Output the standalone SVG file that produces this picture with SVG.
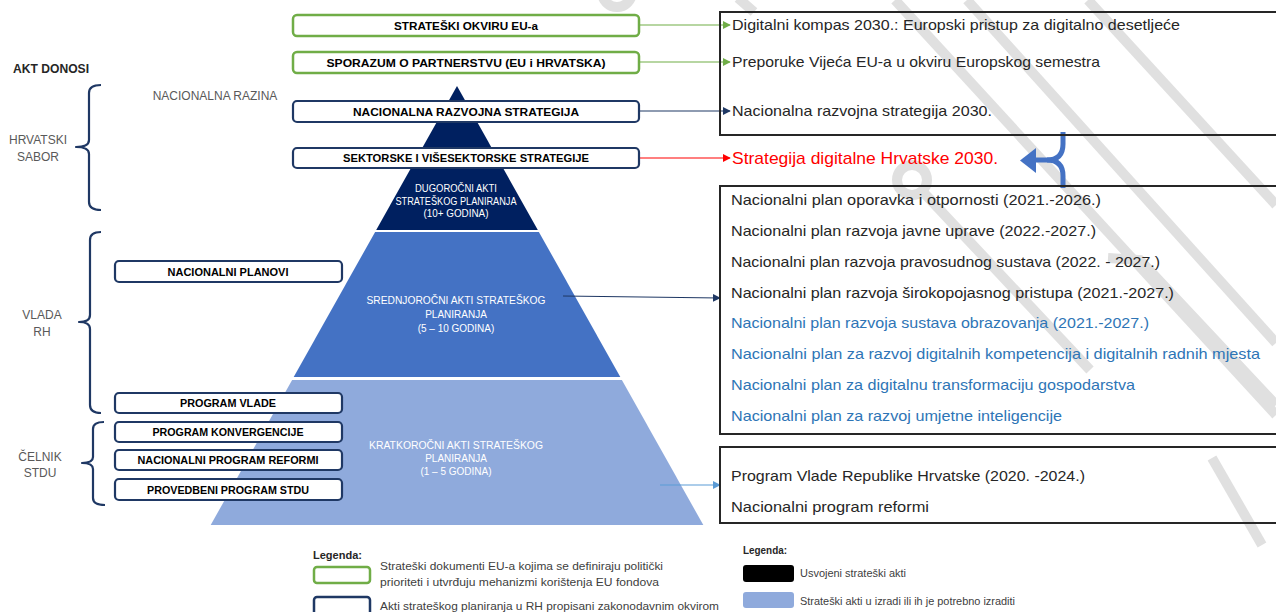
<svg xmlns="http://www.w3.org/2000/svg" width="1276" height="612" viewBox="0 0 1276 612">
<defs>
<style>
text { font-family: "Liberation Sans", Arial, sans-serif; }
.bx { fill: #ffffff; stroke: #1f3864; stroke-width: 2.2; }
.gbx { fill: #ffffff; stroke: #70ad47; stroke-width: 2.5; }
.bt { font-weight: bold; font-size: 11.5px; fill: #000000; text-anchor: middle; dominant-baseline: central; }
.lbl { font-size: 12px; fill: #595959; text-anchor: middle; dominant-baseline: central; }
.pt { font-size: 10px; fill: #ffffff; text-anchor: middle; dominant-baseline: central; }
.rt { font-size: 15px; fill: #262626; dominant-baseline: central; }
.rb { font-size: 15px; fill: #2e75b6; dominant-baseline: central; }
.lg { font-size: 10.5px; fill: #404040; dominant-baseline: central; }
.wm { stroke: #e0e0e0; stroke-width: 10; fill: none; }
.brace { fill: none; stroke: #1f3864; stroke-width: 2.2; stroke-linejoin: round; }
.rbox { fill: none; stroke: #262626; stroke-width: 2; }
</style>
<marker id="mg" viewBox="0 0 10 10" refX="9" refY="5" markerWidth="8" markerHeight="8" markerUnits="userSpaceOnUse" orient="auto"><path d="M0,0 L10,5 L0,10 z" fill="#70ad47"/></marker>
<marker id="mn" viewBox="0 0 10 10" refX="9" refY="5" markerWidth="8" markerHeight="8" markerUnits="userSpaceOnUse" orient="auto"><path d="M0,0 L10,5 L0,10 z" fill="#1f3864"/></marker>
<marker id="mr" viewBox="0 0 10 10" refX="9" refY="5" markerWidth="8" markerHeight="8" markerUnits="userSpaceOnUse" orient="auto"><path d="M0,0 L10,5 L0,10 z" fill="#ff0000"/></marker>
<marker id="mb" viewBox="0 0 10 10" refX="9" refY="5" markerWidth="8" markerHeight="8" markerUnits="userSpaceOnUse" orient="auto"><path d="M0,0 L10,5 L0,10 z" fill="#5b9bd5"/></marker>
</defs>

<rect x="0" y="0" width="1276" height="612" fill="#ffffff"/>

<g id="watermark">
<circle class="wm" cx="617" cy="-8" r="15"/>
<line class="wm" x1="738" y1="-2" x2="754" y2="12"/>
<line class="wm" x1="895" y1="0" x2="1276" y2="415"/>
<line class="wm" x1="967" y1="0" x2="1276" y2="343"/>
<line class="wm" x1="1088" y1="0" x2="1276" y2="205"/>
<circle class="wm" cx="912" cy="180" r="15"/>
<line class="wm" x1="924" y1="193" x2="1090" y2="370"/>
<path class="wm" d="M1108,258 L1140,260 L1276,405"/>
<line class="wm" x1="1212" y1="458" x2="1262" y2="545"/>
</g>

<g id="pyramid">
<polygon points="457,86 537.8,230 376.2,230" fill="#002060"/>
<polygon points="375.1,232 538.9,232 620.3,377 293.7,377" fill="#4472c4"/>
<polygon points="292.1,380 621.9,380 703.3,525 210.7,525" fill="#8faadc"/>
<text class="pt" x="456" y="188" textLength="82" lengthAdjust="spacingAndGlyphs">DUGOROČNI AKTI</text>
<text class="pt" x="456" y="201" textLength="121" lengthAdjust="spacingAndGlyphs">STRATEŠKOG PLANIRANJA</text>
<text class="pt" x="456" y="213" textLength="65" lengthAdjust="spacingAndGlyphs">(10+ GODINA)</text>
<text class="pt" x="456" y="300" font-size="11" textLength="179" lengthAdjust="spacingAndGlyphs">SREDNJOROČNI AKTI STRATEŠKOG</text>
<text class="pt" x="456" y="314" font-size="11">PLANIRANJA</text>
<text class="pt" x="456" y="328" font-size="11">(5 – 10 GODINA)</text>
<text class="pt" x="456" y="445" font-size="11" textLength="174" lengthAdjust="spacingAndGlyphs">KRATKOROČNI AKTI STRATEŠKOG</text>
<text class="pt" x="456" y="458" font-size="11">PLANIRANJA</text>
<text class="pt" x="456" y="471" font-size="11">(1 – 5 GODINA)</text>
</g>

<g id="left-labels">
<text x="13" y="69" font-size="12" font-weight="bold" fill="#262626" dominant-baseline="central" textLength="76" lengthAdjust="spacingAndGlyphs">AKT DONOSI</text>
<text class="lbl" x="215" y="96" fill="#404040">NACIONALNA RAZINA</text>
<path class="brace" d="M101,85 Q89,85 89,93 L89,140 Q89,147 76,147 Q89,147 89,154 L89,202 Q89,210 101,210"/>
<text class="lbl" x="38" y="140">HRVATSKI</text>
<text class="lbl" x="38" y="157">SABOR</text>
<path class="brace" d="M101,232 Q90,232 90,240 L90,315 Q90,322 79,322 Q90,322 90,329 L90,405 Q90,413 101,413"/>
<text class="lbl" x="42" y="315">VLADA</text>
<text class="lbl" x="42" y="332">RH</text>
<path class="brace" d="M104,422 Q93,422 93,429 L93,457 Q93,463 82,463 Q93,463 93,469 L93,498 Q93,505 105,505"/>
<text class="lbl" x="40" y="457">ČELNIK</text>
<text class="lbl" x="40" y="473">STDU</text>
</g>

<g id="connectors">
<line x1="640" y1="25" x2="730" y2="25" stroke="#70ad47" stroke-width="1.2" marker-end="url(#mg)"/>
<line x1="640" y1="62" x2="730" y2="62" stroke="#70ad47" stroke-width="1.2" marker-end="url(#mg)"/>
<line x1="640" y1="111" x2="730" y2="111" stroke="#1f3864" stroke-width="1.2" marker-end="url(#mn)"/>
<line x1="640" y1="158" x2="730" y2="158" stroke="#ff0000" stroke-width="1.2" marker-end="url(#mr)"/>
<line x1="563" y1="296" x2="720" y2="298" stroke="#1f3864" stroke-width="1.2" marker-end="url(#mn)"/>
<line x1="660" y1="485" x2="720" y2="485" stroke="#5b9bd5" stroke-width="1.2" marker-end="url(#mb)"/>
<g id="merge-arrow" fill="none" stroke="#4472c4" stroke-width="5">
<path d="M1063,132 L1063,144 Q1063,160 1047,160 L1034,160"/>
<path d="M1063,188 L1063,176 Q1063,160 1047,160"/>
<polygon points="1036,148 1020,160.5 1036,173" fill="#4472c4" stroke="none"/>
</g>
</g>

<g id="node-eu-okvir">
<rect class="gbx" x="293" y="15" width="346" height="21" rx="4"/>
<text class="bt" x="466" y="25.5" textLength="144" lengthAdjust="spacingAndGlyphs">STRATEŠKI OKVIRU EU-a</text>
</g>
<g id="node-sporazum">
<rect class="gbx" x="293" y="52" width="346" height="21" rx="4"/>
<text class="bt" x="466" y="62.5" textLength="279" lengthAdjust="spacingAndGlyphs">SPORAZUM O PARTNERSTVU (EU i HRVATSKA)</text>
</g>
<g id="node-nrs">
<rect class="bx" x="293" y="101" width="346" height="21" rx="4"/>
<text class="bt" x="466" y="111.5" textLength="226" lengthAdjust="spacingAndGlyphs">NACIONALNA RAZVOJNA STRATEGIJA</text>
</g>
<g id="node-sektorske">
<rect class="bx" x="293" y="148" width="346" height="20" rx="4"/>
<text class="bt" x="466" y="158" textLength="246" lengthAdjust="spacingAndGlyphs">SEKTORSKE I VIŠESEKTORSKE STRATEGIJE</text>
</g>

<g id="node-nacionalni-planovi">
<rect class="bx" x="115" y="261" width="227" height="21" rx="4"/>
<text class="bt" x="228" y="271.5" font-size="11" textLength="121" lengthAdjust="spacingAndGlyphs">NACIONALNI PLANOVI</text>
</g>
<g id="node-program-vlade">
<rect class="bx" x="115" y="393" width="227" height="20" rx="4"/>
<text class="bt" x="228" y="403" font-size="11" textLength="96" lengthAdjust="spacingAndGlyphs">PROGRAM VLADE</text>
</g>
<g id="node-konvergencije">
<rect class="bx" x="115" y="422" width="227" height="20" rx="4"/>
<text class="bt" x="228" y="432" font-size="11" textLength="151" lengthAdjust="spacingAndGlyphs">PROGRAM KONVERGENCIJE</text>
</g>
<g id="node-npr">
<rect class="bx" x="115" y="450" width="227" height="20" rx="4"/>
<text class="bt" x="228" y="460" font-size="11" textLength="181" lengthAdjust="spacingAndGlyphs">NACIONALNI PROGRAM REFORMI</text>
</g>
<g id="node-provedbeni">
<rect class="bx" x="115" y="479" width="227" height="21" rx="4"/>
<text class="bt" x="228" y="489.5" font-size="11" textLength="162" lengthAdjust="spacingAndGlyphs">PROVEDBENI PROGRAM STDU</text>
</g>

<g id="node-eu-docs">
<rect class="rbox" x="720" y="12" width="570" height="123"/>
<text class="rt" x="732" y="24" textLength="448" lengthAdjust="spacingAndGlyphs">Digitalni kompas 2030.: Europski pristup za digitalno desetljeće</text>
<text class="rt" x="732" y="61" textLength="368" lengthAdjust="spacingAndGlyphs">Preporuke Vijeća EU-a u okviru Europskog semestra</text>
<text class="rt" x="732" y="110" textLength="260" lengthAdjust="spacingAndGlyphs">Nacionalna razvojna strategija 2030.</text>
</g>

<g id="node-sdh">
<text x="732" y="158" font-size="17" fill="#ff0000" dominant-baseline="central" textLength="266" lengthAdjust="spacingAndGlyphs">Strategija digitalne Hrvatske 2030.</text>
</g>

<g id="node-plans">
<rect class="rbox" x="720" y="186" width="570" height="248" stroke="#1f3864"/>
<text class="rt" x="731" y="199" textLength="370" lengthAdjust="spacingAndGlyphs">Nacionalni plan oporavka i otpornosti (2021.-2026.)</text>
<text class="rt" x="731" y="230" textLength="365" lengthAdjust="spacingAndGlyphs">Nacionalni plan razvoja javne uprave (2022.-2027.)</text>
<text class="rt" x="731" y="261" textLength="429" lengthAdjust="spacingAndGlyphs">Nacionalni plan razvoja pravosudnog sustava (2022. - 2027.)</text>
<text class="rt" x="731" y="292" textLength="443" lengthAdjust="spacingAndGlyphs">Nacionalni plan razvoja širokopojasnog pristupa (2021.-2027.)</text>
<text class="rb" x="731" y="322" textLength="418" lengthAdjust="spacingAndGlyphs">Nacionalni plan razvoja sustava obrazovanja (2021.-2027.)</text>
<text class="rb" x="731" y="353" textLength="529" lengthAdjust="spacingAndGlyphs">Nacionalni plan za razvoj digitalnih kompetencija i digitalnih radnih mjesta</text>
<text class="rb" x="731" y="384" textLength="404" lengthAdjust="spacingAndGlyphs">Nacionalni plan za digitalnu transformaciju gospodarstva</text>
<text class="rb" x="731" y="415" textLength="331" lengthAdjust="spacingAndGlyphs">Nacionalni plan za razvoj umjetne inteligencije</text>
</g>

<g id="node-programs">
<rect class="rbox" x="720" y="447" width="570" height="76"/>
<text class="rt" x="731" y="475" textLength="354" lengthAdjust="spacingAndGlyphs">Program Vlade Republike Hrvatske (2020. -2024.)</text>
<text class="rt" x="731" y="506" textLength="198" lengthAdjust="spacingAndGlyphs">Nacionalni program reformi</text>
</g>

<g id="legend-left">
<text x="313" y="555" font-size="10.5" font-weight="bold" fill="#262626" dominant-baseline="central" textLength="49" lengthAdjust="spacingAndGlyphs">Legenda:</text>
<rect x="314" y="567" width="56" height="16" rx="3" fill="#ffffff" stroke="#70ad47" stroke-width="2.5"/>
<text class="lg" x="380" y="566" textLength="283" lengthAdjust="spacingAndGlyphs">Strateški dokumenti EU-a kojima se definiraju politički</text>
<text class="lg" x="380" y="582" textLength="279" lengthAdjust="spacingAndGlyphs">prioriteti i utvrđuju mehanizmi korištenja EU fondova</text>
<rect x="314" y="597" width="56" height="20" rx="3" fill="#ffffff" stroke="#1f3864" stroke-width="2.5"/>
<text class="lg" x="380" y="606" textLength="339" lengthAdjust="spacingAndGlyphs">Akti strateškog planiranja u RH propisani zakonodavnim okvirom</text>
</g>

<g id="legend-right">
<text x="743" y="550" font-size="10.5" font-weight="bold" fill="#262626" dominant-baseline="central" textLength="44" lengthAdjust="spacingAndGlyphs">Legenda:</text>
<rect x="743" y="565" width="51" height="17" rx="3" fill="#000000"/>
<text class="lg" x="800" y="573" textLength="106" lengthAdjust="spacingAndGlyphs">Usvojeni strateški akti</text>
<rect x="743" y="592" width="51" height="16" rx="3" fill="#8faadc"/>
<text class="lg" x="800" y="601" fill="#2e75b6" textLength="215" lengthAdjust="spacingAndGlyphs">Strateški akti u izradi ili ih je potrebno izraditi</text>
</g>
</svg>
